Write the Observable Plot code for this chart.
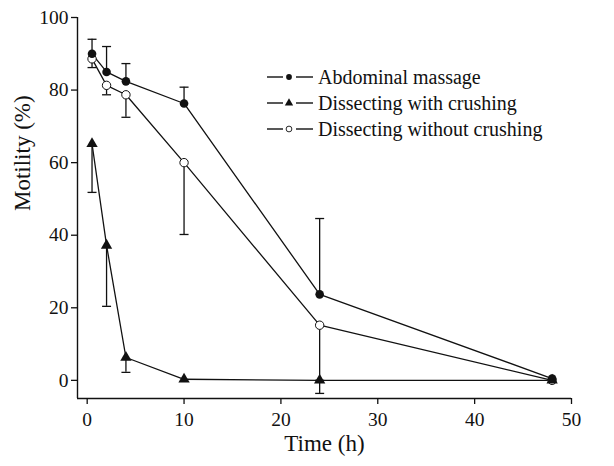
<!DOCTYPE html>
<html>
<head>
<meta charset="utf-8">
<script src="https://cdn.jsdelivr.net/npm/d3@7"></script>
<script src="https://cdn.jsdelivr.net/npm/@observablehq/plot@0.6"></script>
<style>
  body { margin: 0; background: #fff; }
  #chart { width: 614px; height: 466px; }
</style>
</head>
<body>
<div id="chart"></div>
<script>
// Sperm motility over time for three collection methods (mean with one-sided error bars)
const hours = [0.5, 2, 4, 10, 24, 48];

const massage = [90, 85, 82.4, 76.3, 23.7, 0.5];
const massageErr = [94, 92, 87.3, 80.8, 44.6, 0.5];          // upper bar end

const crushing = [65.2, 37.2, 6.3, 0.3, 0, 0];
const crushingErr = [51.8, 20.4, 2.2, 0.3, -3.6, 0];          // lower bar end

const noCrushing = [88.6, 81.3, 78.7, 60, 15.2, 0];
const noCrushingErr = [86.2, 78.7, 72.5, 40.2, 0, 0];         // lower bar end

const seriesNames = ["Abdominal massage", "Dissecting with crushing", "Dissecting without crushing"];
const xTicks = [0, 10, 20, 30, 40, 50];
const yTicks = [0, 20, 40, 60, 80, 100];

const seriesValues = [massage, crushing, noCrushing];
const seriesErrs = [massageErr, crushingErr, noCrushingErr];

const rows = [];
seriesNames.forEach((name, i) => {
  hours.forEach((h, j) => {
    rows.push({series: name, x: h, y: seriesValues[i][j], err: seriesErrs[i][j]});
  });
});
const errRows = rows.filter(d => d.err !== d.y);

// horizontal cap drawn at the end of each error bar
const capSymbol = {
  draw(context) {
    context.moveTo(-4.5, 0);
    context.lineTo(4.5, 0);
  }
};

const font = "'Liberation Serif', 'Times New Roman', serif";

const plot = Plot.plot({
  width: 614,
  height: 466,
  marginLeft: 77,
  marginRight: 43,
  marginTop: 17,
  marginBottom: 68,
  style: {fontFamily: font, background: "#fff", color: "#111"},
  x: {domain: [-1, 50]},
  y: {domain: [-5, 100]},
  marks: [
    Plot.ruleY([-5], {stroke: "#111", strokeWidth: 1.4}),
    Plot.ruleX([-1], {stroke: "#111", strokeWidth: 1.4}),
    Plot.axisX({ticks: xTicks, tickSize: 6, tickPadding: 8, fontSize: 19.5, label: null, stroke: "#111", strokeWidth: 1.3}),
    Plot.axisY({ticks: yTicks, tickSize: 6, tickPadding: 3, fontSize: 19.5, label: null, stroke: "#111", strokeWidth: 1.3}),
    Plot.text(["Time (h)"], {frameAnchor: "bottom", dy: 52, fontSize: 23, fill: "#111"}),
    Plot.text(["Motility (%)"], {frameAnchor: "left", dx: -55, dy: 3, rotate: -90, fontSize: 23, fill: "#111"}),
    Plot.ruleX(errRows, {x: "x", y1: "y", y2: "err", stroke: "#111", strokeWidth: 1.3}),
    Plot.dot(errRows, {x: "x", y: "err", symbol: capSymbol, stroke: "#111", strokeWidth: 1.3, fill: "none", r: 4}),
    Plot.line(rows, {x: "x", y: "y", z: "series", stroke: "#111", strokeWidth: 1.3}),
    Plot.dot(rows.filter(d => d.series === seriesNames[2]), {x: "x", y: "y", r: 4.2, fill: "#fff", stroke: "#111", strokeWidth: 1}),
    Plot.dot(rows.filter(d => d.series === seriesNames[1]), {x: "x", y: "y", symbol: "triangle", r: 4.2, fill: "#111", stroke: "none"}),
    Plot.dot(rows.filter(d => d.series === seriesNames[0]), {x: "x", y: "y", r: 4.3, fill: "#111", stroke: "none"})
  ]
});

// legend, drawn inside the plot area
const svg = d3.select(plot);
const legend = svg.append("g").attr("transform", "translate(267,77)").attr("text-anchor", "start");
const legendSymbols = [d3.symbolCircle, d3.symbolTriangle, d3.symbolCircle];
const legendFills = ["#111", "#111", "#fff"];
seriesNames.forEach((name, i) => {
  const row = legend.append("g").attr("transform", `translate(0,${i * 26})`);
  row.append("line").attr("x1", 0).attr("x2", 16).attr("stroke", "#111").attr("stroke-width", 1.4);
  row.append("line").attr("x1", 29).attr("x2", 46).attr("stroke", "#111").attr("stroke-width", 1.4);
  row.append("path")
    .attr("transform", "translate(22,0)")
    .attr("d", d3.symbol(legendSymbols[i], i === 1 ? 30 : 26)())
    .attr("fill", legendFills[i])
    .attr("stroke", "#111")
    .attr("stroke-width", i === 2 ? 0.9 : 0);
  row.append("text")
    .attr("x", 51)
    .attr("dy", "0.35em")
    .attr("text-anchor", "start")
    .attr("font-size", 20)
    .attr("fill", "#111")
    .text(name);
});

document.getElementById("chart").appendChild(plot);
</script>
</body>
</html>
